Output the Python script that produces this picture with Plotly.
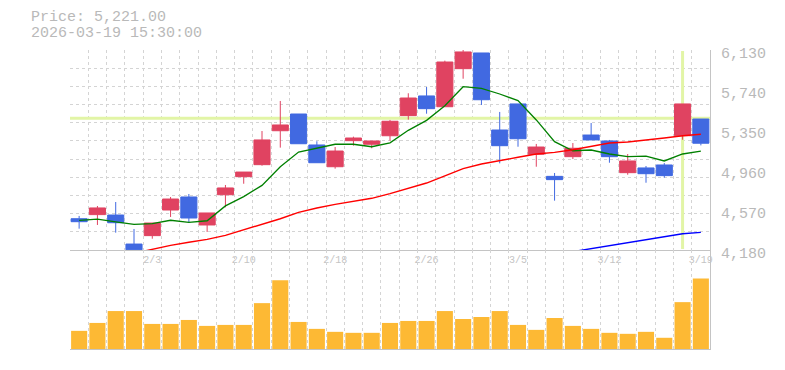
import plotly.graph_objects as go

# ---------------- data ----------------
dates = ['1/28', '1/29', '1/30', '2/2', '2/3', '2/4', '2/5', '2/6', '2/9', '2/10',
         '2/12', '2/13', '2/16', '2/17', '2/18', '2/19', '2/20', '2/24', '2/25', '2/26',
         '2/27', '3/2', '3/3', '3/4', '3/5', '3/6', '3/9', '3/10', '3/11', '3/12',
         '3/13', '3/16', '3/17', '3/18', '3/19']

opens = [4485, 4525, 4521, 4238, 4320, 4570, 4697, 4424, 4719, 4895,
         5012, 5343, 5506, 5204, 4992, 5246, 5211, 5294, 5490, 5682,
         5577, 5948, 6101, 5350, 5604, 5113, 4898, 5090, 5301, 5243,
         4934, 4980, 5009, 5294, 5457]
highs = [4512, 4609, 4648, 4385, 4443, 4697, 4726, 4541, 4814, 4940,
         5340, 5633, 5506, 5240, 5184, 5285, 5243, 5448, 5708, 5769,
         6026, 6130, 6101, 5526, 5604, 5214, 4931, 5223, 5418, 5253,
         5116, 4999, 5028, 5604, 5457]
lows = [4388, 4424, 4349, 4182, 4290, 4502, 4450, 4356, 4596, 4826,
        5002, 5178, 5216, 5031, 4973, 5197, 5172, 5246, 5451, 5509,
        5577, 5850, 5594, 5025, 5187, 4992, 4661, 5067, 5253, 5031,
        4914, 4836, 4885, 5255, 5200]
closes = [4456, 4590, 4446, 4182, 4443, 4677, 4492, 4541, 4785, 4940,
          5253, 5399, 5216, 5031, 5145, 5272, 5243, 5435, 5662, 5558,
          6013, 6111, 5645, 5197, 5265, 5184, 4866, 5172, 5253, 5090,
          5048, 4924, 4905, 5604, 5221]

ma_short = [4469, 4482, 4455, 4430, 4437, 4470, 4450, 4465, 4610, 4700,
            4810, 4992, 5135, 5172, 5211, 5211, 5187, 5225, 5347, 5444,
            5587, 5772, 5756, 5701, 5636, 5448, 5236, 5148, 5155, 5116,
            5090, 5096, 5048, 5116, 5143]
ma_mid = [None, None, None, 4148, 4190, 4225, 4255, 4284, 4323, 4375,
          4427, 4485, 4547, 4590, 4625, 4654, 4684, 4729, 4781, 4833,
          4902, 4973, 5019, 5048, 5084, 5116, 5132, 5158, 5194, 5223,
          5233, 5249, 5272, 5294, 5308]
ma_long = [None] * 27 + [4164, 4193, 4219, 4248, 4278, 4310, 4339, 4352]

volumes = [55, 79, 115, 115, 76, 76, 88, 70, 73, 73,
           139, 208, 82, 61, 52, 49, 49, 79, 85, 85,
           115, 91, 97, 115, 73, 58, 94, 70, 61, 49,
           46, 52, 34, 142, 214]

y_tick_values = [4180, 4570, 4960, 5350, 5740, 6130]
y_tick_labels = ['4,180', '4,570', '4,960', '5,350', '5,740', '6,130']
x_label_dates = ['2/3', '2/10', '2/18', '2/26', '3/5', '3/12', '3/19']

price_text = 'Price: 5,221.00'
time_text = '2026-03-19 15:30:00'
crosshair_date = '3/18'
crosshair_price = 5465

# ---------------- styling ----------------
FONT = 'Liberation Mono'
TXT = '#b9b9b9'
GRID = '#d4d4d4'
AX = '#c4c4c4'
UP = '#e04361'
DOWN = '#4169e1'
VOL = '#fdb934'
CROSS = '#e2f5a6'

slots = list(range(1, len(dates) + 1))
label_slots = [dates.index(d) + 1 for d in x_label_dates]
n = len(dates)
x_bounds = [k + 0.5 for k in range(n + 1)]
y_grid = [y_tick_values[0] + (y_tick_values[-1] - y_tick_values[0]) * k / 11 for k in range(12)]

# page body has an 8px margin; plot area should sit at x 70..710, y 50..349
PAD = 8
ML, MT = 70 - PAD, 50 - PAD
PW, PH = 640, 299
W, H = 785, 370
MR = W - ML - PW
MB = H - MT - PH
split = 99 / 299

fig = go.Figure()

fig.add_trace(go.Scatter(x=slots, y=ma_short, mode='lines',
                         line=dict(color='#008000', width=1.3),
                         xaxis='x', yaxis='y', showlegend=False, hoverinfo='skip'))
fig.add_trace(go.Scatter(x=slots, y=ma_mid, mode='lines',
                         line=dict(color='#ff0000', width=1.4),
                         xaxis='x', yaxis='y', showlegend=False, hoverinfo='skip'))
fig.add_trace(go.Scatter(x=slots, y=ma_long, mode='lines',
                         line=dict(color='#0000ff', width=1.4),
                         xaxis='x', yaxis='y', showlegend=False, hoverinfo='skip'))

fig.add_trace(go.Candlestick(
    x=slots, open=opens, high=highs, low=lows, close=closes,
    increasing=dict(line=dict(color=UP, width=1), fillcolor=UP),
    decreasing=dict(line=dict(color=DOWN, width=1), fillcolor=DOWN),
    whiskerwidth=0, xaxis='x', yaxis='y', showlegend=False, hoverinfo='skip'))

fig.add_trace(go.Bar(x=slots, y=volumes, marker=dict(color=VOL, line=dict(width=0)),
                     xaxis='x2', yaxis='y2', showlegend=False, hoverinfo='skip'))

cross_slot = dates.index(crosshair_date) + 1
fig.add_shape(type='line', xref='x', yref='y', x0=0.5, x1=n + 0.5,
              y0=crosshair_price, y1=crosshair_price,
              line=dict(color=CROSS, width=3), layer='between')
fig.add_shape(type='line', xref='x', yref='y', x0=cross_slot, x1=cross_slot,
              y0=y_tick_values[0] + 10, y1=y_tick_values[-1] - 10,
              line=dict(color=CROSS, width=3), layer='between')

grid_minor_x = dict(tickmode='array', tickvals=x_bounds, showgrid=True,
                    gridcolor=GRID, griddash='3px,3px', gridwidth=1, ticks='')

fig.update_layout(
    width=W, height=H,
    margin=dict(l=ML, r=MR, t=MT, b=MB, autoexpand=False),
    paper_bgcolor='white', plot_bgcolor='white',
    boxgap=0.12, boxgroupgap=0,
    bargap=0.12,
    font=dict(family=FONT, color=TXT),
    xaxis=dict(domain=[0, 1], anchor='y', range=[0.5, n + 0.5],
               tickmode='array', tickvals=label_slots, ticktext=x_label_dates,
               showgrid=False, minor=grid_minor_x, zeroline=False,
               showline=True, linecolor=AX, linewidth=1, ticks='',
               tickfont=dict(family=FONT, size=10, color='#c4c4c4'),
               rangeslider=dict(visible=False), fixedrange=True),
    yaxis=dict(domain=[split, 1], anchor='x', side='right',
               range=[y_tick_values[0], y_tick_values[-1]],
               tickmode='array', tickvals=y_tick_values, ticktext=y_tick_labels,
               showgrid=False, zeroline=False,
               minor=dict(tickmode='array', tickvals=y_grid, showgrid=True,
                          gridcolor=GRID, griddash='3px,3px', gridwidth=1, ticks=''),
               showline=True, linecolor=AX, linewidth=1, ticks='',
               ticklabelstandoff=7, ticklabelshift=3,
               tickfont=dict(family=FONT, size=15, color=TXT)),
    xaxis2=dict(domain=[0, 1], anchor='y2', matches='x', range=[0.5, n + 0.5],
                showticklabels=False, showgrid=False, minor=grid_minor_x,
                zeroline=False, showline=True, linecolor=AX, linewidth=1, ticks=''),
    yaxis2=dict(domain=[0, split], anchor='x2', side='right', range=[0, 300],
                showticklabels=False, showgrid=False, zeroline=False,
                showline=True, linecolor=AX, linewidth=1, ticks=''),
    annotations=[
        dict(text=price_text, xref='paper', yref='paper', x=(29 - 70) / PW, y=(349 - 17) / PH,
             xanchor='left', yanchor='middle', showarrow=False,
             font=dict(family=FONT, size=15, color=TXT)),
        dict(text=time_text, xref='paper', yref='paper', x=(29 - 70) / PW, y=(349 - 33) / PH,
             xanchor='left', yanchor='middle', showarrow=False,
             font=dict(family=FONT, size=15, color=TXT)),
    ],
)

fig.write_html('out.html', config={'displayModeBar': False})
